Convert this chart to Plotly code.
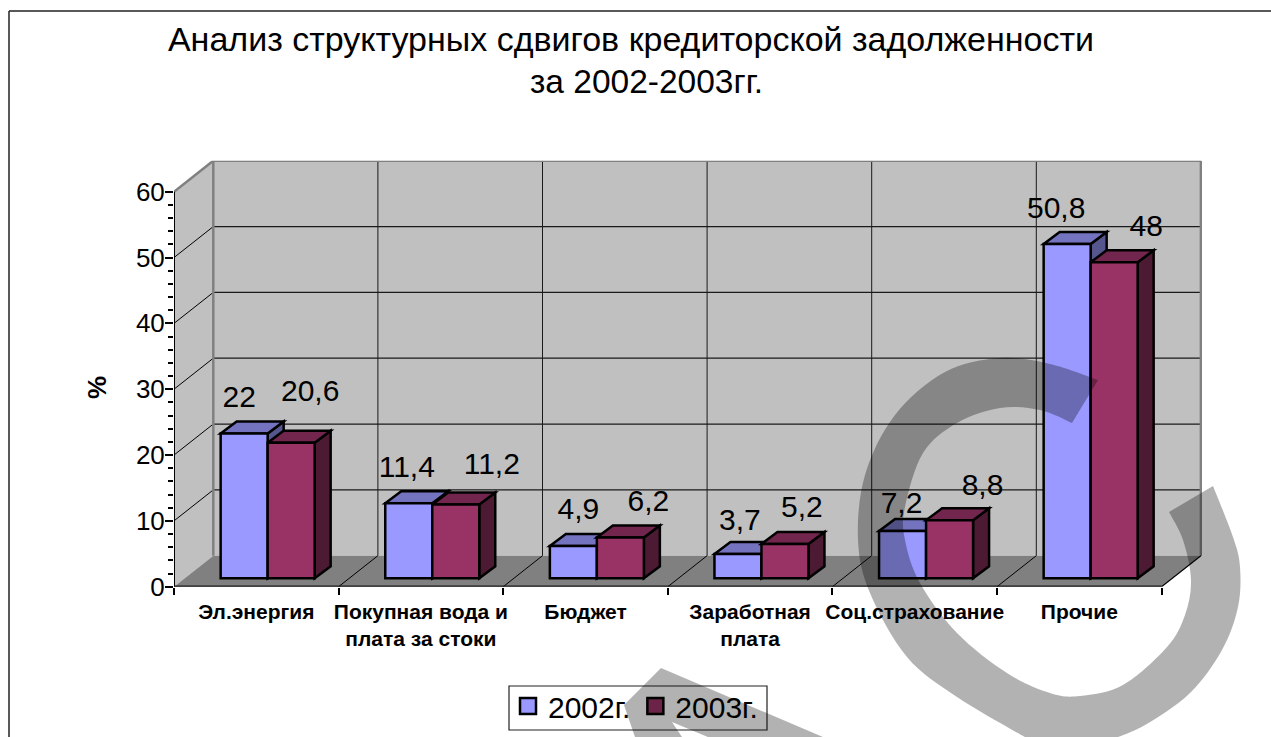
import plotly.graph_objects as go

# ---- data ----
categories = ["Эл.энергия", "Покупная вода и<br>плата за стоки", "Бюджет", "Заработная<br>плата",
              "Соц.страхование", "Прочие"]
series_names = ["2002г.", "2003г."]
values_2002 = [22, 11.4, 4.9, 3.7, 7.2, 50.8]
values_2003 = [20.6, 11.2, 6.2, 5.2, 8.8, 48]
y_ticks = [0, 10, 20, 30, 40, 50, 60]
title_line1 = "Анализ структурных сдвигов кредиторской задолженности"
title_line2 = "за 2002-2003гг."
y_title = "%"

# ---- layout constants (pixels of the 1271x737 page) ----
W, H = 1271, 737
PX_L, PX_R, PX_T, PX_B = 174, 1202, 160.7, 586.7
PX_CAT = 164.6
PX_VAL = 6.583
XMAX = (PX_R - PX_L) / PX_CAT
YMAX = (PX_B - PX_T) / PX_VAL
DX = 39.3 / PX_CAT   # wall depth
DY = 31.0 / PX_VAL
BDX = 16.0 / PX_CAT  # bar depth
BDY = 12.0 / PX_VAL
BASE = 8.4 / PX_VAL
BAR_W = 47.0 / PX_CAT
PAIR_CENTRE = 0.569

# label offsets in pixels relative to the front-top centre of each bar
LABEL_DX_2002 = [-5, -2, 5, 2, -1, -11]
LABEL_DX_2003 = [19, 36, 28, 17, 33, 32]
LABEL_DY_2002 = [34, 34, 35, 31, 25, 33]
LABEL_DY_2003 = [49, 38, 34, 35, 33, 34]

WALL = "#C0C0C0"
FLOOR = "#808080"
BLUE = ["#9999FF", "#7373BF", "#56568F"]
RED = ["#993366", "#73264D", "#4D1A33"]
SW_BLUE, SW_RED = "#9999FF", "#6B2447"


def px(x):
    return x / W


def py(y):
    return 1 - y / H


def poly(points, fill=None, line=None, width=0):
    path = "M" + "L".join(f"{a},{b}" for a, b in points) + "Z"
    return dict(type="path", path=path, xref="x", yref="y", layer="below",
                fillcolor=fill or "rgba(0,0,0,0)",
                line=dict(color=line or "rgba(0,0,0,0)", width=width))


def seg(a, b, c, d, color="#000000", width=1.0, layer="below"):
    return dict(type="line", x0=a, y0=b, x1=c, y1=d, xref="x", yref="y", layer=layer,
                line=dict(color=color, width=width))


shapes = []
n = len(categories)
# walls and floor
shapes.append(poly([(0, 0), (0, 60), (DX, 60 + DY), (DX, DY)], WALL))
shapes.append(poly([(DX, DY), (DX, 60 + DY), (n + DX, 60 + DY), (n + DX, DY)], WALL))
shapes.append(poly([(0, 0), (DX, DY), (n + DX, DY), (n, 0)], FLOOR))
# grid
for t in y_ticks[1:-1]:
    shapes.append(seg(0, t, DX, t + DY))
    shapes.append(seg(DX, t + DY, n + DX, t + DY, "#1a1a1a", 1.2))
for i in range(1, n):
    shapes.append(seg(i + DX, DY, i + DX, 60 + DY, "#1a1a1a", 1.0))
    shapes.append(seg(i, 0, i + DX, DY))
# wall borders
for a, b, c, d in [(0, 60, DX, 60 + DY), (DX, 60 + DY, n + DX, 60 + DY), (DX, DY, DX, 60 + DY),
                   (n + DX, DY, n + DX, 60 + DY)]:
    shapes.append(seg(a, b, c, d, "#808080", 2.5))
shapes.append(seg(n, 0, n + DX, DY, "#000000", 1.2))
# axis lines
shapes.append(seg(0, 0, 0, 60, "#000000", 2))
shapes.append(seg(0, 0, n, 0, "#1a1a1a", 2.5))

# bar depth faces, built from the values
x_2002 = [i + PAIR_CENTRE - BAR_W / 2 for i in range(n)]
x_2003 = [i + PAIR_CENTRE + BAR_W / 2 for i in range(n)]
for xs, vals, cols in [(x_2002, values_2002, BLUE), (x_2003, values_2003, RED)]:
    for x, v in zip(xs, vals):
        l, r, top = x - BAR_W / 2, x + BAR_W / 2, BASE + v
        shapes.append(poly([(r, BASE), (r + BDX, BASE + BDY), (r + BDX, top + BDY), (r, top)],
                           cols[2], "#000000", 2.5))
        shapes.append(poly([(l, top), (l + BDX, top + BDY), (r + BDX, top + BDY), (r, top)],
                           cols[1], "#000000", 2.5))


def smooth(points):
    """SVG bezier pieces through the points (Catmull-Rom), page pixels to paper."""
    out = []
    m = len(points)
    for i in range(m - 1):
        p0 = points[max(i - 1, 0)]
        p1 = points[i]
        p2 = points[i + 1]
        p3 = points[min(i + 2, m - 1)]
        c1 = (p1[0] + (p2[0] - p0[0]) / 6, p1[1] + (p2[1] - p0[1]) / 6)
        c2 = (p2[0] - (p3[0] - p1[0]) / 6, p2[1] - (p3[1] - p1[1]) / 6)
        out.append(f"C{px(c1[0])},{py(c1[1])} {px(c2[0])},{py(c2[1])} {px(p2[0])},{py(p2[1])}")
    return out


# watermark outlines
arc_outer = [(1098, 380), (1050, 364), (1000, 358), (945, 372), (895, 415), (865, 475), (858, 540),
             (870, 593), (907, 657), (957, 697), (1030, 740)]
arc_outer2 = [(1110, 740), (1145, 725), (1190, 693), (1222, 650), (1238, 607), (1240, 567),
              (1233, 537), (1213, 486)]
arc_inner = [(1169, 512), (1183, 540), (1191, 580), (1185, 615), (1167, 647), (1123, 685), (1080, 696),
             (1050, 693), (1007, 673), (957, 633), (920, 583), (905, 540), (905, 507), (923, 453),
             (957, 423), (1000, 408), (1040, 410), (1072, 423)]
arc_path = [f"M{px(1098)},{py(380)}"] + smooth(arc_outer)
arc_path.append(f"L{px(1110)},{py(740)}")
arc_path += smooth(arc_outer2)
arc_path.append(f"L{px(1169)},{py(512)}")
arc_path += smooth(arc_inner)
arc_path.append("Z")
WM = "rgba(0,0,0,0.3)"
shapes.append(dict(type="path", path=" ".join(arc_path), xref="paper", yref="paper", layer="above",
                   fillcolor=WM, line=dict(width=0)))
stripe = [(661, 668), (830, 740), (715, 740), (672, 722), (684, 740), (636, 740), (624, 705)]
shapes.append(dict(type="path",
                   path="M" + "L".join(f"{px(a)},{py(b)}" for a, b in stripe) + "Z",
                   xref="paper", yref="paper", layer="above", fillcolor=WM, line=dict(width=0)))
# outer frame: top and left edges only
for x0, y0, x1, y1 in [(9, 11, 1271, 11), (9, 11, 9, 737)]:
    shapes.append(dict(type="line", xref="paper", yref="paper", x0=px(x0), x1=px(x1), y0=py(y0), y1=py(y1),
                       layer="below", line=dict(color="#222222", width=1.5)))
# legend box
shapes.append(dict(type="rect", xref="paper", yref="paper", x0=px(509), x1=px(767), y0=py(730), y1=py(686),
                   layer="below", line=dict(color="#222222", width=1.2), fillcolor="rgba(0,0,0,0)"))

fig = go.Figure()
for name, xs, vals, cols in [(series_names[0], x_2002, values_2002, BLUE),
                             (series_names[1], x_2003, values_2003, RED)]:
    fig.add_trace(go.Bar(x=xs, y=vals, base=BASE, width=BAR_W, name=name, showlegend=False,
                         marker=dict(color=cols[0], line=dict(color="#000000", width=2.5))))

for xs, vals, ldx, ldy in [(x_2002, values_2002, LABEL_DX_2002, LABEL_DY_2002),
                           (x_2003, values_2003, LABEL_DX_2003, LABEL_DY_2003)]:
    fig.add_trace(go.Scatter(
        x=[x + d / PX_CAT for x, d in zip(xs, ldx)],
        y=[BASE + v + d / PX_VAL for v, d in zip(vals, ldy)],
        mode="text", text=[f"{v:g}".replace(".", ",") for v in vals], textposition="middle center",
        textfont=dict(family="Liberation Sans", size=30, color="#000000"),
        cliponaxis=False, showlegend=False, hoverinfo="skip"))

centres = [i + 0.5 for i in range(n)]

for name, col in zip(series_names, [SW_BLUE, SW_RED]):
    fig.add_trace(go.Scatter(x=[None], y=[None], mode="markers", name=name,
                             marker=dict(symbol="square", size=16, color=col,
                                         line=dict(color="#000000", width=2.5))))

fig.update_layout(
    width=W, height=H, margin=dict(l=0, r=0, t=0, b=0, autoexpand=False), autosize=False,
    paper_bgcolor="#FFFFFF", plot_bgcolor="rgba(0,0,0,0)", barmode="overlay", shapes=shapes,
    font=dict(family="Liberation Sans", color="#000000"),
    xaxis=dict(domain=[px(PX_L), px(PX_R)], range=[0, XMAX], showgrid=False, zeroline=False, showline=False,
               tickmode="array", tickvals=centres, ticktext=categories, ticks="", ticklabelstandoff=10,
               tickfont=dict(family="Liberation Sans", size=21, color="#000000", weight="bold"),
               tickangle=0,
               minor=dict(ticks="outside", ticklen=7, tickwidth=1.5, tickcolor="#000000",
                          tickmode="array", tickvals=list(range(n + 1)), showgrid=False)),
    yaxis=dict(domain=[py(PX_B), py(PX_T)], range=[0, YMAX], showgrid=False, zeroline=False, showline=False,
               tickmode="array", tickvals=y_ticks, ticks="outside", ticklen=8, tickwidth=1.5, ticklabelstandoff=-5,
               tickcolor="#000000", tickfont=dict(family="Liberation Sans", size=26, color="#000000"),
               minor=dict(ticks="outside", ticklen=5, tickwidth=1.5, tickcolor="#000000",
                          tickmode="array", tickvals=[v for v in range(0, 60, 2) if v % 10], showgrid=False)),
    title=dict(text=title_line1, x=631 / W, xanchor="center", y=py(39), yanchor="middle",
               font=dict(family="Liberation Sans", size=34, color="#000000")),
    annotations=[
        dict(text=title_line2, x=px(646), y=py(81), xref="paper", yref="paper", showarrow=False,
             xanchor="center", yanchor="middle", font=dict(family="Liberation Sans", size=33.5, color="#000000")),
        dict(text=y_title, x=px(97), y=py(388), xref="paper", yref="paper", showarrow=False, textangle=-90,
             xanchor="center", yanchor="middle",
             font=dict(family="Liberation Sans", size=26, color="#000000", weight="bold")),
    ],
    legend=dict(x=px(508), y=py(680), xanchor="left", yanchor="top", orientation="h",
                bgcolor="rgba(0,0,0,0)", borderwidth=0, itemsizing="trace",
                font=dict(family="Liberation Sans", size=30, color="#000000")),
)

fig.write_html("out.html", post_script="document.body.style.margin='0';",
               config={"displayModeBar": False})
